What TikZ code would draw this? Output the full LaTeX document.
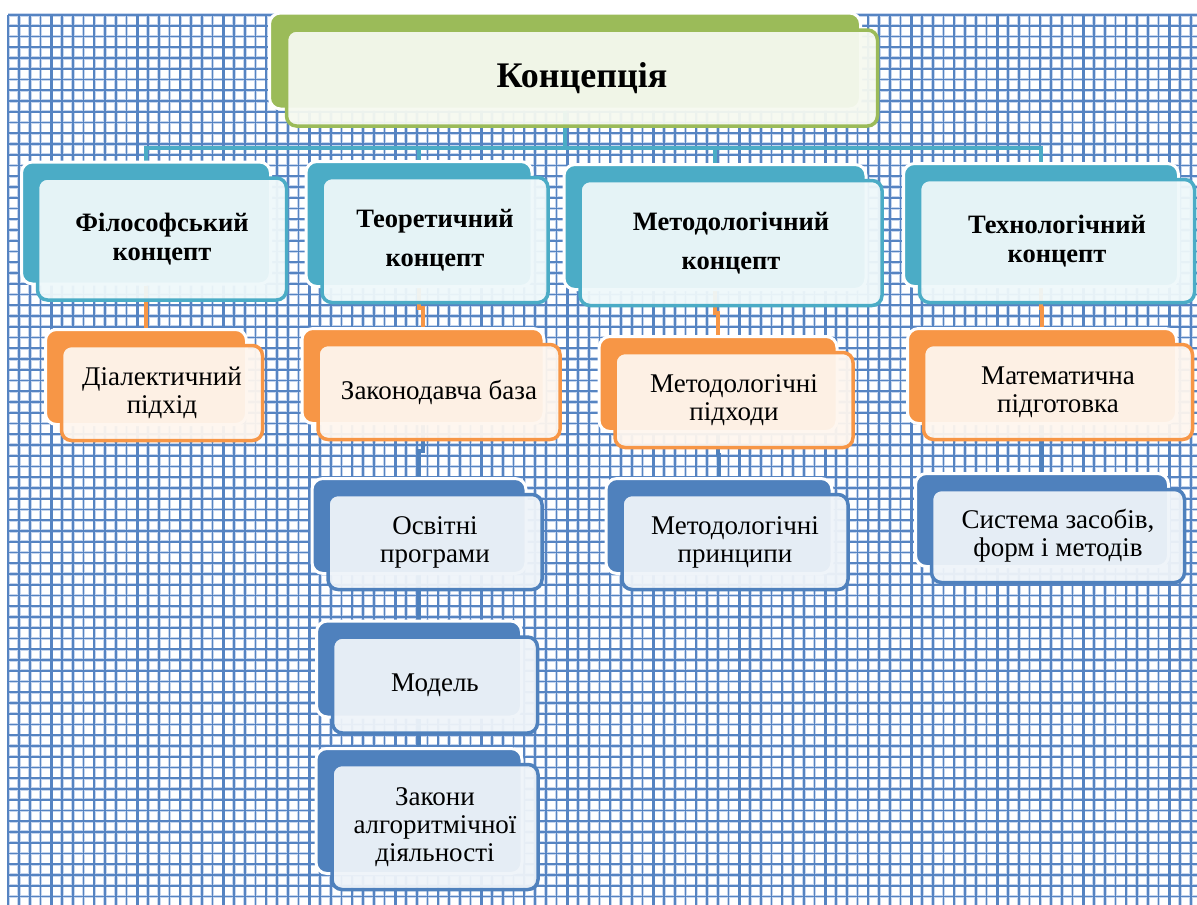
\documentclass[tikz,border=0pt]{standalone}
\usepackage{fontspec}
\setmainfont{Liberation Serif}
\usetikzlibrary{calc}
\pgfdeclarelayer{grid}
\pgfdeclarelayer{links}
\pgfsetlayers{grid,links,main}

\definecolor{cgreen}{HTML}{9BBB59}
\definecolor{cteal}{HTML}{4BACC6}
\definecolor{corange}{HTML}{F79646}
\definecolor{cblue}{HTML}{4F81BD}
\definecolor{gridcore}{HTML}{5684C2}
\definecolor{gridhalo}{HTML}{C6D6EE}

\tikzset{
  card back/.style={draw=white, line width=3pt, rounded corners=11pt, fill=#1},
  card front/.style={draw=#1, line width=3.5pt, rounded corners=10pt,
    fill=#1!9, fill opacity=0.94, text opacity=1, align=center, inner sep=0pt},
  link/.style={draw=#1, line width=4pt},
  titlefont/.style={font=\fontsize{36}{40}\selectfont\bfseries},
  headfont/.style={font=\fontsize{26.5}{29}\selectfont\bfseries},
  itemfont/.style={font=\fontsize{27}{28}\selectfont},
}

% name, colour, x, y, width, height, font style, text
\newcommand\cardpair[8]{%
  \node[card back=#2, minimum width=#5pt, minimum height=#6pt,
        xshift=-16pt, yshift=16pt] (#1-b) at (#3,#4) {};
  \node[card front=#2, minimum width=#5pt, minimum height=#6pt, #7]
        (#1) at (#3,#4) {#8};
}
\newcommand\linkdown[3]{%
  \draw[link=#1] (#2.south) |- ($(#2.south)!.5!(#3.north)$) -| (#3.north);
}

\begin{document}
\begin{tikzpicture}[x=1pt, y=-1pt]
\useasboundingbox (0,0) rectangle (1197,905);

% checked paper background
\begin{pgfonlayer}{grid}
  \fill[white] (8,15) rectangle (1197,905);
  \foreach \i in {0,...,110} {
    \pgfmathsetmacro\x{8.3+10.75*\i}
    \draw[gridhalo, line width=3.4pt] (\x,15) -- (\x,905);
  }
  \foreach \j in {0,...,82} {
    \pgfmathsetmacro\y{15+10.75*\j}
    \draw[gridhalo, line width=3.4pt] (8,\y) -- (1197,\y);
  }
  \foreach \i in {0,...,110} {
    \pgfmathsetmacro\x{8.3+10.75*\i}
    \pgfmathsetmacro\w{mod(\i,8)==4 ? 2.8 : 1.7}
    \draw[gridcore, line width=\w pt] (\x,15) -- (\x,905);
  }
  \foreach \j in {0,...,82} {
    \pgfmathsetmacro\y{15+10.75*\j}
    \draw[gridcore, line width=1.7pt] (8,\y) -- (1197,\y);
  }
\end{pgfonlayer}

% root
\node[card back=cgreen, minimum width=591pt, minimum height=96pt,
      xshift=-17pt, yshift=17pt] (top-b) at (582,78) {};
\node[card front=cgreen, minimum width=591pt, minimum height=96pt, titlefont]
      (top) at (582,78) {Концепція};

% first level
\cardpair{ph}{cteal}{162}{239}{249}{122}{headfont}{Філософський\\концепт}
\cardpair{th}{cteal}{435}{240}{226}{125}{headfont}{Теоретичний\\[10pt]концепт}
\cardpair{me}{cteal}{731}{243}{302}{125}{headfont}{Методологічний\\[10pt]концепт}
\cardpair{te}{cteal}{1057}{241}{275}{123}{headfont}{Технологічний\\концепт}

% second level
\cardpair{dia}{corange}{162}{393}{201}{95}{itemfont}{Діалектичний\\підхід}
\cardpair{zak}{corange}{439}{392}{242}{95}{itemfont}{Законодавча база}
\cardpair{mph}{corange}{734}{400}{238}{95}{itemfont}{Методологічні\\підходи}
\cardpair{mat}{corange}{1058}{392}{269}{95}{itemfont}{Математична\\підготовка}

% third level
\cardpair{osv}{cblue}{435}{542}{214}{95}{itemfont}{Освітні\\програми}
\cardpair{mpr}{cblue}{735}{542}{226}{95}{itemfont}{Методологічні\\принципи}
\cardpair{sys}{cblue}{1058}{536}{253}{93}{itemfont}{Система засобів,\\форм і методів}
\cardpair{mod}{cblue}{435}{685}{205}{96}{itemfont}{Модель}
\cardpair{law}{cblue}{435}{827}{206}{125}{itemfont}{Закони\\алгоритмічної\\діяльності}

% connectors
\begin{pgfonlayer}{links}
  \foreach \c in {ph,th,me,te}
    \draw[link=cteal] (top-b.south) -- ++(0,37) -| (\c-b.north);
  \linkdown{corange}{ph-b}{dia-b}
  \linkdown{corange}{th-b}{zak-b}
  \linkdown{corange}{me-b}{mph-b}
  \linkdown{corange}{te-b}{mat-b}
  \linkdown{cblue}{zak-b}{osv-b}
  \linkdown{cblue}{mph-b}{mpr-b}
  \linkdown{cblue}{mat-b}{sys-b}
  \linkdown{cblue}{osv-b}{mod-b}
  \linkdown{cblue}{mod-b}{law-b}
\end{pgfonlayer}
\end{tikzpicture}
\end{document}
